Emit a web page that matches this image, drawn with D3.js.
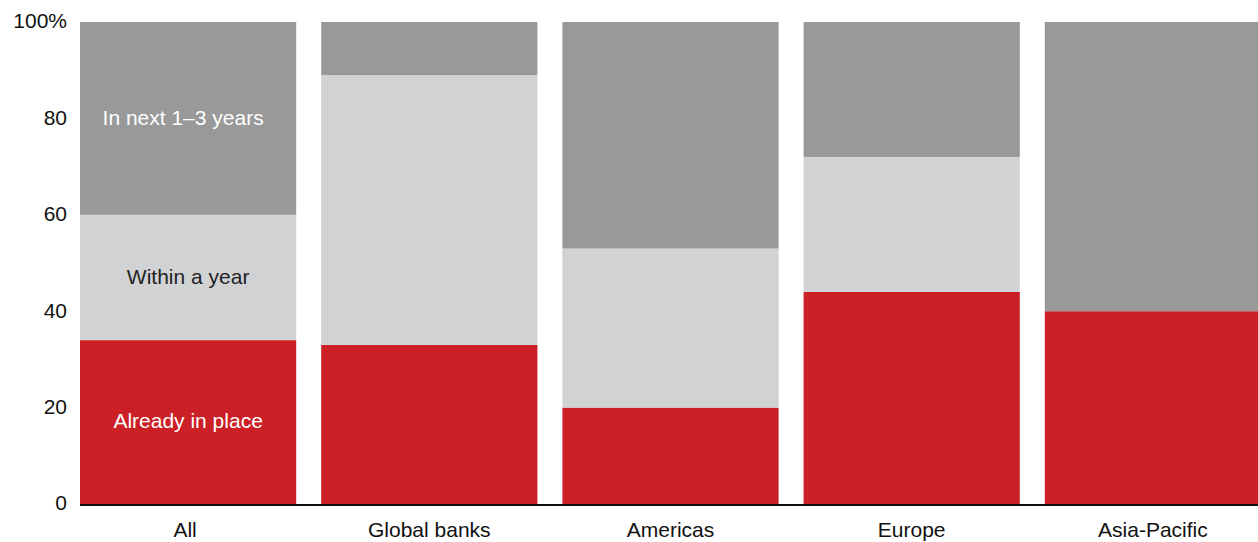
<!DOCTYPE html>
<html><head><meta charset="utf-8">
<script src="https://cdn.jsdelivr.net/npm/d3@7"></script>
<style>body{margin:0;background:#fff;overflow:hidden;} text{font-family:"Liberation Sans",Arial,sans-serif;}</style>
</head><body>
<svg id="c" width="1258" height="542"></svg>
<script>
const categories = ["All","Global banks","Americas","Europe","Asia-Pacific"];
const alreadyInPlace = [34,33,20,44,40];
const withinAYear = [26,56,33,28,0];
const next1to3Years = [40,11,47,28,60];
const seriesNames = ["Already in place","Within a year","In next 1–3 years"];
const yTicks = [0,20,40,60,80,100];
const colors = ["#cc2027","#d1d2d4","#999999"];
const labelColors = ["#ffffff","#222222","#ffffff"];

const svg = d3.select("#c");
const x = d3.scaleBand().domain(categories).range([80,1261]).paddingInner(0.1036).paddingOuter(0);
const y = d3.scaleLinear().domain([0,100]).range([504,22]);

const rows = categories.map((c,i)=>({cat:c, a:alreadyInPlace[i], b:withinAYear[i], c:next1to3Years[i]}));
const stack = d3.stack().keys(["a","b","c"])(rows);

const g = svg.append("g");
stack.forEach((s,si)=>{
  g.selectAll(null).data(s).enter().append("rect")
    .attr("x", d=>x(d.data.cat))
    .attr("width", x.bandwidth())
    .attr("y", d=>y(d[1]))
    .attr("height", d=>y(d[0])-y(d[1]))
    .attr("fill", colors[si]);
});

stack.forEach((s,si)=>{
  const d = s[0];
  g.append("text")
    .attr("x", x(d.data.cat)+x.bandwidth()/2 - (si===2?5:0))
    .attr("y", (y(d[0])+y(d[1]))/2 - 1)
    .attr("dy","0.35em")
    .attr("text-anchor","middle")
    .attr("font-size",21)
    .attr("fill",labelColors[si])
    .text(seriesNames[si]);
});

svg.selectAll(".yt").data(yTicks).enter().append("text")
  .attr("x", 67).attr("y", d=>y(d)-1).attr("dy","0.35em")
  .attr("text-anchor","end").attr("font-size",21).attr("fill","#111")
  .text(d=>d===100? "100%" : d);

svg.append("line").attr("x1",80).attr("x2",1258).attr("y1",505).attr("y2",505)
  .attr("stroke","#111").attr("stroke-width",2);

svg.selectAll(".xl").data(categories).enter().append("text")
  .attr("x", d=>x(d)+x.bandwidth()/2 - (d==="All"?3:0)).attr("y",530).attr("dy","0.35em")
  .attr("text-anchor","middle").attr("font-size",21).attr("fill","#111")
  .text(d=>d);
</script>
</body></html>
